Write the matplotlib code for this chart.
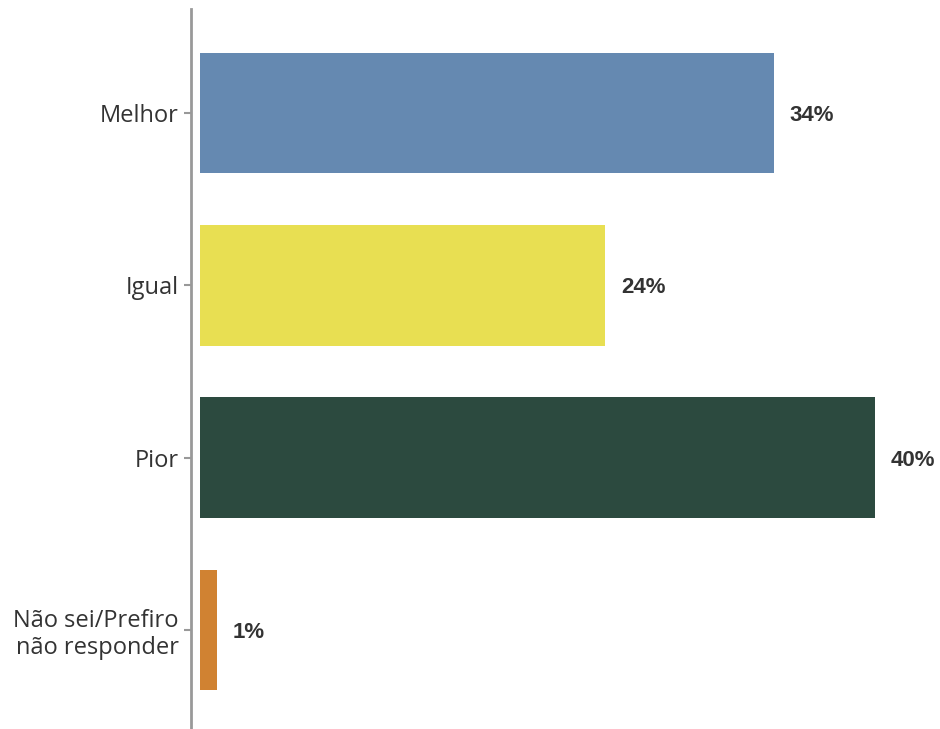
import matplotlib
matplotlib.use("Agg")
import matplotlib.pyplot as plt

# -----------------------------
# Data
# -----------------------------
categories = ["Melhor", "Igual", "Pior", "Não sei/Prefiro\nnão responder"]
values = [34, 24, 40, 1]
labels = ["34%", "24%", "40%", "1%"]
colors = ["#6589B1", "#E8DF52", "#2C4A3F", "#D08232"]

# -----------------------------
# Plot
# -----------------------------
fig = plt.figure(figsize=(9.4, 7.29), dpi=100)
ax = fig.add_axes([0.2032, 0.0, 0.7968, 0.987])

pos = list(range(len(categories)))
ax.barh(pos, values, height=0.70, color=colors)

for p, v, lab in zip(pos, values, labels):
    ax.annotate(lab, (v, p), xytext=(11.5, 0), textcoords="offset points",
                ha="left", va="center_baseline", fontsize=16, fontweight="bold",
                family="Liberation Sans", color="#333333")

ax.set_xlim(-0.53, 43.85)
ax.set_ylim(3.575, -0.6)

ax.set_yticks(pos)
ax.set_yticklabels(categories, fontsize=17, family="Open Sans", color="#333333")
for t in ax.get_yticklabels():
    t.set_multialignment("right")
    t.set_linespacing(1.15)
ax.tick_params(axis="y", length=5, width=1.5, color="#999999", pad=4)
ax.set_xticks([])

for side in ["top", "right", "bottom"]:
    ax.spines[side].set_visible(False)
ax.spines["left"].set_color("#999999")
ax.spines["left"].set_linewidth(2)

fig.savefig("out.png", dpi=100)
